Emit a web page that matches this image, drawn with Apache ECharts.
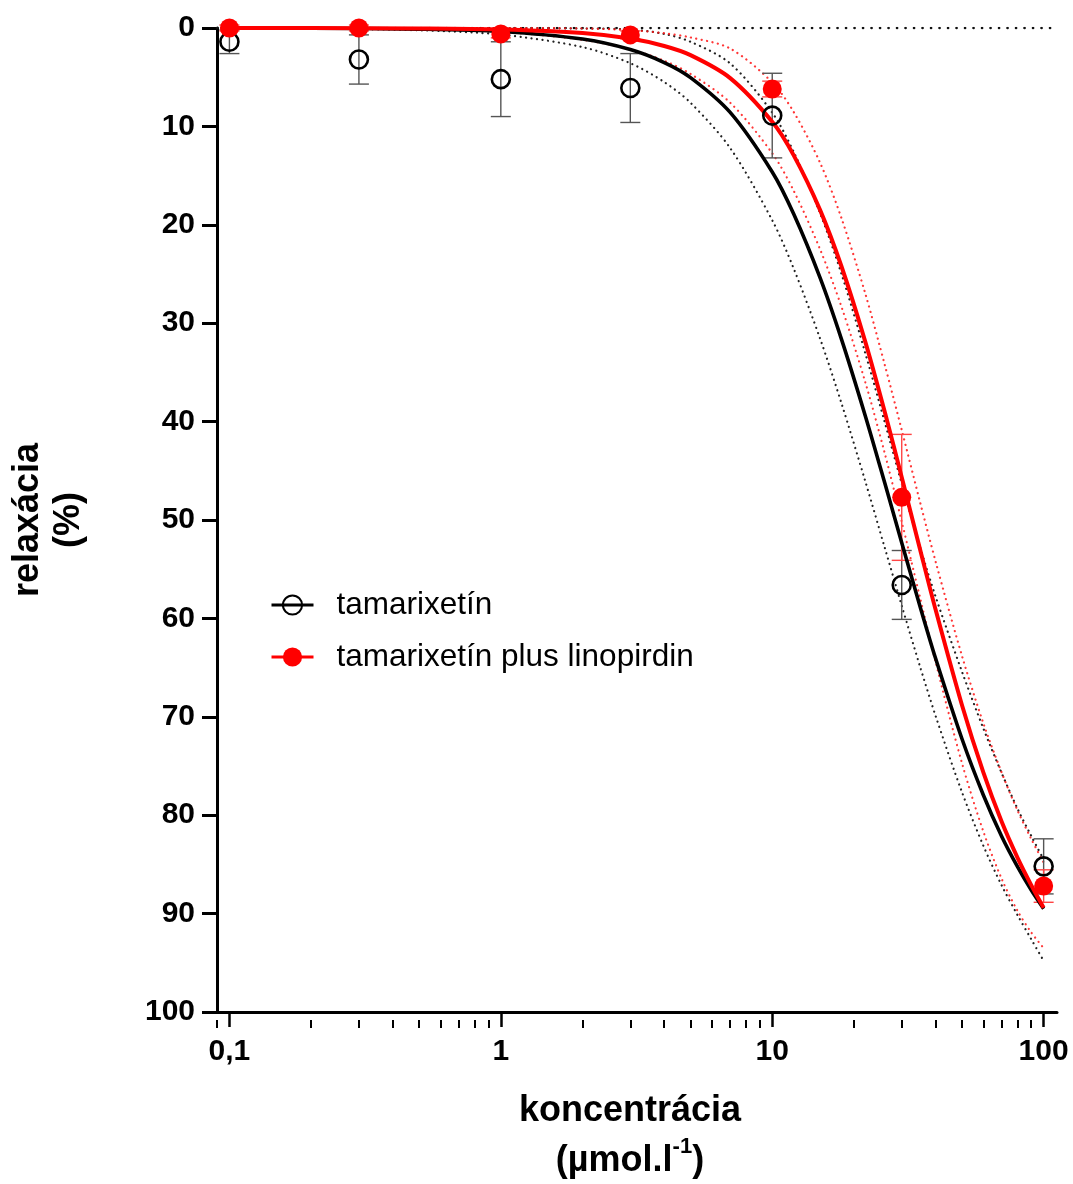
<!DOCTYPE html>
<html><head><meta charset="utf-8">
<script src="https://cdn.jsdelivr.net/npm/echarts@6/dist/echarts.min.js"></script>
<style>html,body{margin:0;padding:0;background:#fff}#c{width:1073px;height:1184px}</style>
</head><body><div id="c"></div>
<script>
// ---- data ----
const conc = [0.1, 0.3, 1, 3, 10, 30, 100];
const tamMean = [1.4, 3.2, 5.2, 6.1, 8.9, 56.6, 85.2];
const tamSem  = [1.2, 2.5, 3.8, 3.5, 4.3, 3.5, 2.8];
const linMean = [0.0, 0.0, 0.6, 0.7, 6.2, 47.7, 87.2];
const linSem  = [0.3, 0.3, 0.4, 0.4, 0.8, 6.4, 1.65];

// fitted curves and their dotted confidence bands, read at these concentrations
const fitX    = [0.1, 0.2, 0.5, 1, 2, 3, 4, 5, 7, 10, 12, 15, 18, 22, 26, 30, 35, 40, 50, 60, 70, 80, 90, 100];
const tamFit  = [0.01, 0.02, 0.11, 0.35, 1.12, 2.19, 3.51, 5.04, 8.58, 14.63, 18.91, 25.37, 31.64, 39.37, 46.27, 52.31, 58.73, 64.08, 72.23, 77.97, 82.13, 85.2, 87.6, 89.5];
const tamLow  = [0.02, 0.06, 0.23, 0.67, 1.94, 3.58, 5.49, 7.6, 12.2, 19.54, 24.45, 31.55, 38.15, 46.02, 52.85, 58.7, 64.85, 69.92, 77.65, 83.12, 87.12, 90.12, 92.6, 94.8];
const tamHigh = [0.0, 0.0, 0.0, 0.01, 0.05, 0.15, 0.6, 1.4, 3.6, 8.6, 12.6, 18.8, 25.0, 33.0, 40.1, 46.3, 52.7, 57.8, 65.4, 71.2, 75.7, 79.3, 82.1, 84.5];
const linFit  = [0.0, 0.01, 0.04, 0.14, 0.5, 1.07, 1.83, 2.76, 5.09, 9.53, 12.94, 18.48, 24.24, 31.85, 39.06, 45.65, 52.92, 59.13, 68.8, 75.68, 80.65, 84.28, 87.1, 89.4];
const linLow  = [0.02, 0.05, 0.15, 0.39, 1.2, 2.17, 3.33, 4.66, 7.59, 12.73, 16.54, 22.48, 28.34, 35.95, 43.26, 50.15, 57.82, 64.43, 74.7, 81.68, 86.45, 89.68, 91.91, 93.5];
const linHigh = [0.0, 0.0, 0.0, 0.0, 0.05, 0.22, 0.53, 0.96, 2.09, 5.53, 8.54, 13.68, 19.34, 26.95, 34.26, 40.85, 48.12, 54.23, 63.8, 70.68, 75.65, 79.48, 82.41, 84.8];

const zeroLineX = [0.09, 110];
const zeroLineY = [0, 0];

const majorTicks = [0.1, 1, 10, 100];
const minorTicks = [0.09, 0.2, 0.3, 0.4, 0.5, 0.6, 0.7, 0.8, 0.9, 2, 3, 4, 5, 6, 7, 8, 9, 20, 30, 40, 50, 60, 70, 80, 90];
const xMin = 0.09, xMax = 112;

const nameTam = 'tamarixetín';
const nameLin = 'tamarixetín plus linopirdin';

// ---- chart ----
const FONT = '"Liberation Sans", Arial, Helvetica, sans-serif';
const chart = echarts.init(document.getElementById('c'), null, {renderer: 'canvas'});
const gridRect = {left: 217, right: 16, top: 28, bottom: 164};

const pairs = (xs, ys) => xs.map((x, i) => [x, ys[i]]);

function errSeries(means, sems, color, z) {
  return {
    type: 'custom', silent: true, z: z, xAxisIndex: 0, yAxisIndex: 0,
    encode: {x: 0, y: [1, 2]},
    data: conc.map((c, i) => [c, means[i] - sems[i], means[i] + sems[i]]),
    renderItem(params, api) {
      const x = api.value(0);
      const p1 = api.coord([x, api.value(1)]);
      const p2 = api.coord([x, api.value(2)]);
      const h = 10;
      const st = {stroke: color, lineWidth: 1.4, fill: null};
      return {type: 'group', children: [
        {type: 'line', shape: {x1: p1[0], y1: p1[1], x2: p2[0], y2: p2[1]}, style: st},
        {type: 'line', shape: {x1: p1[0] - h, y1: p1[1], x2: p1[0] + h, y2: p1[1]}, style: st},
        {type: 'line', shape: {x1: p2[0] - h, y1: p2[1], x2: p2[0] + h, y2: p2[1]}, style: st}
      ]};
    }
  };
}

function band(ys, color, z) {
  return {
    type: 'line', silent: true, z: z, showSymbol: false, smooth: 0.3,
    data: pairs(fitX, ys),
    lineStyle: {color: color, width: 2.2, type: [0.1, 5.4], cap: 'round'}
  };
}

function fit(ys, color, width, z) {
  return {
    type: 'line', silent: true, z: z, showSymbol: false, smooth: 0.3,
    data: pairs(fitX, ys),
    lineStyle: {color: color, width: width}
  };
}

const fmtX = v => {
  const r = +(+v).toPrecision(6);
  return r < 1 ? String(r).replace('.', ',') : String(r);
};

const option = {
  animation: false,
  backgroundColor: '#fff',
  textStyle: {fontFamily: FONT},
  grid: [Object.assign({}, gridRect), Object.assign({}, gridRect)],
  legend: {
    data: [nameTam, nameLin],
    orient: 'vertical', left: 270, top: 589, padding: 0,
    itemWidth: 42, itemHeight: 24, itemGap: 20,
    lineStyle: {width: 3},
    textStyle: {fontSize: 31.5, color: '#000', fontFamily: FONT, padding: [0, 0, 0, 18], lineHeight: 32}
  },
  xAxis: [{
    type: 'log', logBase: 10, min: xMin, max: xMax, gridIndex: 0,
    axisLine: {onZero: false, lineStyle: {color: '#000', width: 3}},
    axisTick: {customValues: majorTicks, length: 15, lineStyle: {color: '#000', width: 2.5}},
    axisLabel: {customValues: majorTicks, formatter: fmtX, fontSize: 30, fontWeight: 'bold', color: '#000', fontFamily: FONT, margin: 25},
    splitLine: {show: false},
    name: '{a|koncentrácia}\n{b|(µmol.l}{c|-1}{b|)}',
    nameLocation: 'middle', nameGap: 74,
    nameTextStyle: {
      padding: [0, 14, 0, 0],
      rich: {
        a: {fontSize: 36, fontWeight: 'bold', color: '#000', fontFamily: FONT, lineHeight: 50},
        b: {fontSize: 36, fontWeight: 'bold', color: '#000', fontFamily: FONT, lineHeight: 50},
        c: {fontSize: 22, fontWeight: 'bold', color: '#000', fontFamily: FONT, lineHeight: 30, verticalAlign: 'top'}
      }
    }
  }, {
    type: 'log', logBase: 10, min: xMin, max: xMax, gridIndex: 1,
    axisLine: {show: false, onZero: false},
    axisTick: {customValues: minorTicks, length: 8, lineStyle: {color: '#000', width: 2}},
    axisLabel: {show: false},
    splitLine: {show: false}
  }],
  yAxis: [{
    type: 'value', inverse: true, min: 0, max: 100, interval: 10, gridIndex: 0,
    axisLine: {show: true, onZero: false, lineStyle: {color: '#000', width: 3}},
    axisTick: {show: true, length: 15, lineStyle: {color: '#000', width: 3}},
    axisLabel: {fontSize: 30, fontWeight: 'bold', color: '#000', fontFamily: FONT, margin: 22},
    splitLine: {show: false},
    name: '{a|relaxácia}\n{a|(%)}',
    nameLocation: 'middle', nameRotate: 90, nameGap: 127,
    nameTextStyle: {
      rich: {a: {fontSize: 36, fontWeight: 'bold', color: '#000', fontFamily: FONT, lineHeight: 41}}
    }
  }, {
    type: 'value', inverse: true, min: 0, max: 100, gridIndex: 1, show: false
  }],
  series: [
    {
      type: 'line', silent: true, z: 1, showSymbol: false,
      data: pairs(zeroLineX, zeroLineY),
      lineStyle: {color: '#111', width: 2.6, type: [0.1, 8.4], cap: 'round'}
    },
    band(tamLow, '#222', 1),
    band(tamHigh, '#222', 1),
    band(linLow, 'rgba(255,20,20,0.85)', 1),
    band(linHigh, 'rgba(255,20,20,0.85)', 1),
    errSeries(tamMean, tamSem, '#555', 2),
    errSeries(linMean, linSem, '#f44', 2),
    fit(tamFit, '#000', 3.6, 3),
    fit(linFit, '#ff0000', 4, 3),
    {
      name: nameTam, type: 'line', z: 4, silent: true,
      data: pairs(conc, tamMean),
      symbol: 'circle', symbolSize: 18, showSymbol: true,
      color: '#000',
      lineStyle: {width: 0, color: '#000'},
      itemStyle: {color: 'rgba(0,0,0,0)', borderColor: '#000', borderWidth: 2.6}
    },
    {
      name: nameLin, type: 'line', z: 5, silent: true,
      data: pairs(conc, linMean),
      symbol: 'circle', symbolSize: 19, showSymbol: true,
      color: '#ff0000',
      lineStyle: {width: 0, color: '#ff0000'},
      itemStyle: {color: '#ff0000', borderWidth: 0}
    }
  ]
};
chart.setOption(option);
</script>
</body></html>
